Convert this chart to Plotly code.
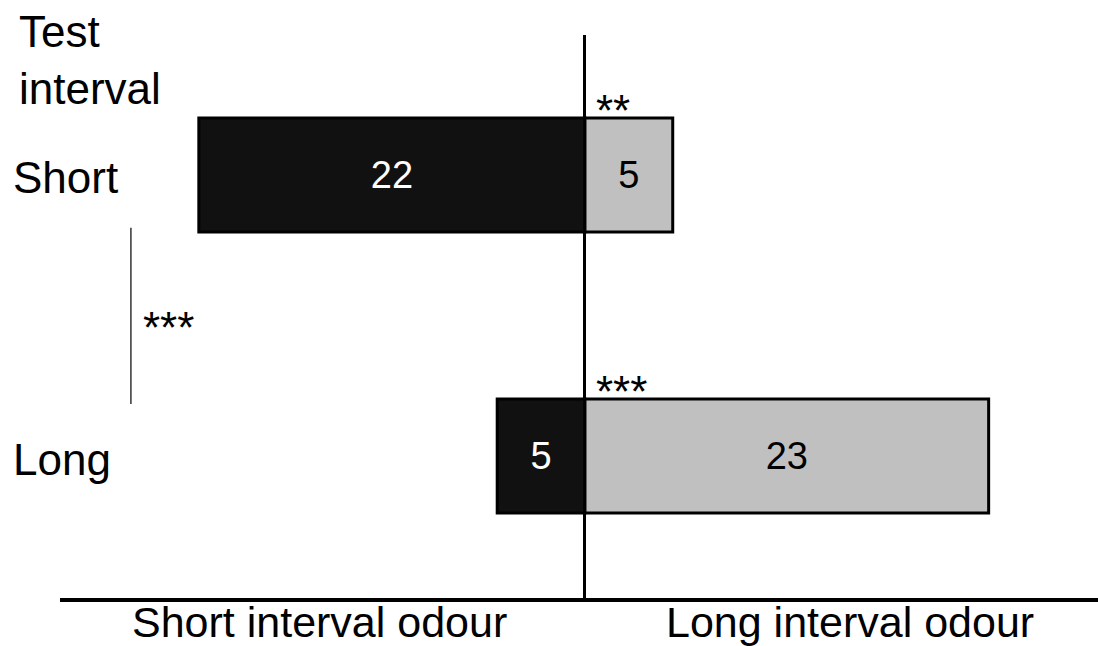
import plotly.graph_objects as go

# Test intervals (top to bottom) and choice counts per odour
test_interval = ["Short", "Long"]
short_odour_counts = [22, 5]
long_odour_counts = [5, 23]
pair_stars = ["**", "***"]   # within-condition significance
between_stars = "***"        # Short vs Long test interval

odour_labels = ["Short interval odour", "Long interval odour"]
y_pos = [1, 0]
bar_w = 0.406
FONT = "Liberation Sans, Arial, sans-serif"
STAR_SIZE = 44

fig = go.Figure()
fig.add_trace(go.Bar(
    y=y_pos, x=[-v for v in short_odour_counts], orientation="h",
    width=bar_w, name=odour_labels[0],
    marker=dict(color="#111111", line=dict(color="black", width=3)),
    text=[str(v) for v in short_odour_counts], textposition="inside",
    insidetextanchor="middle", textangle=0,
    textfont=dict(family=FONT, size=38, color="white"),
    hoverinfo="skip",
))
fig.add_trace(go.Bar(
    y=y_pos, x=long_odour_counts, orientation="h",
    width=bar_w, name=odour_labels[1],
    marker=dict(color="#c0c0c0", line=dict(color="black", width=3)),
    text=[str(v) for v in long_odour_counts], textposition="inside",
    insidetextanchor="middle", textangle=0,
    textfont=dict(family=FONT, size=38, color="black"),
    hoverinfo="skip",
))

annotations = []
# Row labels
for lab, y in zip(test_interval, y_pos):
    annotations.append(dict(text=lab, x=-0.047, xref="paper", y=y, yref="y",
                            xanchor="left", yanchor="middle", yshift=-3, showarrow=False,
                            font=dict(family=FONT, size=44, color="black")))
annotations.append(dict(text="Test<br>interval", x=-0.041, xref="paper", y=1.0, yref="paper",
                        xanchor="left", yanchor="bottom", yshift=-80, showarrow=False,
                        align="left", font=dict(family=FONT, size=44, color="black")))
# Odour labels below the axis
for lab, sign in zip(odour_labels, [-1, 1]):
    annotations.append(dict(text=lab, x=sign * 15.1, xref="x", y=0, yref="paper",
                            xanchor="center", yanchor="top", yshift=2, showarrow=False,
                            font=dict(family=FONT, size=43, color="black")))
# Significance stars above each pair of bars
for s, y in zip(pair_stars, y_pos):
    annotations.append(dict(text=s, x=0, xref="x", y=y + bar_w / 2, yref="y",
                            xanchor="left", yanchor="bottom", xshift=9, yshift=-19,
                            showarrow=False, font=dict(family=FONT, size=STAR_SIZE, color="black")))
annotations.append(dict(text=between_stars, x=-25.87, xref="x", y=0.5, yref="y",
                        xanchor="left", yanchor="middle", xshift=10, yshift=-12,
                        showarrow=False, font=dict(family=FONT, size=STAR_SIZE, color="black")))

# Bracket line linking the two test intervals
shapes = [dict(type="line", xref="x", yref="y", x0=-25.87, x1=-25.87,
               y0=y_pos[0] - bar_w / 2 + 0.015, y1=y_pos[1] + bar_w / 2 - 0.018,
               line=dict(color="#333333", width=1.5))]

fig.update_layout(
    width=1098, height=646,
    margin=dict(l=60, r=0, t=35, b=48),
    barmode="relative",
    showlegend=False,
    plot_bgcolor="white", paper_bgcolor="white",
    annotations=annotations, shapes=shapes,
    xaxis=dict(range=[-29.91, 29.23], showgrid=False, showticklabels=False, ticks="",
               zeroline=True, zerolinecolor="black", zerolinewidth=3,
               showline=True, linecolor="black", linewidth=4, fixedrange=True),
    yaxis=dict(range=[-0.505, 1.498], showgrid=False, showticklabels=False, ticks="",
               zeroline=False, showline=False, fixedrange=True),
)

fig.write_html("out.html", config={"displayModeBar": False})
